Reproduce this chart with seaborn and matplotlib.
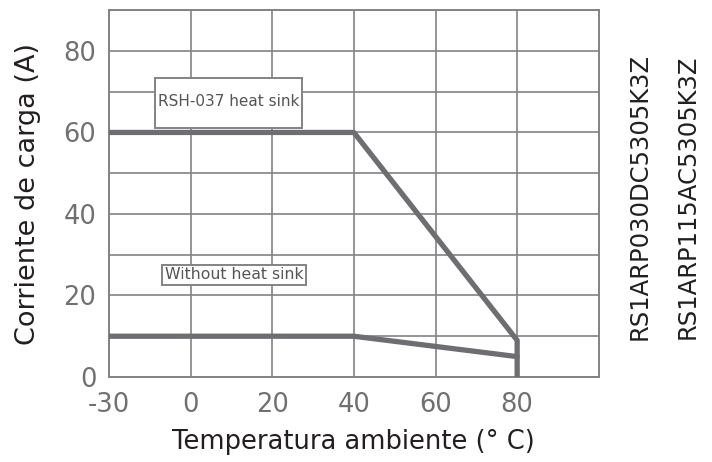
import matplotlib
matplotlib.use("Agg")
import numpy as np
import pandas as pd
import matplotlib.pyplot as plt
import seaborn as sns
from matplotlib.patches import Rectangle

# derating curves
heatsink_temp = [-30, 40, 80, 80]
heatsink_amps = [60, 60, 9, 0]
bare_temp = [-30, 40, 80]
bare_amps = [10, 10, 5]

x_ticks = [-30, 0, 20, 40, 60, 80]
y_ticks = [0, 20, 40, 60, 80]
parts = ["RS1ARP030DC5305K3Z", "RS1ARP115AC5305K3Z"]

df = pd.concat([
    pd.DataFrame({"temp": heatsink_temp, "amps": heatsink_amps, "curve": "RSH-037 heat sink"}),
    pd.DataFrame({"temp": bare_temp, "amps": bare_amps, "curve": "Without heat sink"}),
])

sns.set_style("white")
plt.rcParams["font.family"] = ["DejaVu Sans"]

grid_col = "#838383"
line_col = "#6d6e71"

fig = plt.figure(figsize=(7.12, 4.62), dpi=100)
ax = fig.add_axes([0.153, 0.184, 0.688, 0.794])


# the datasheet squeezes -30..0 into one grid cell
def fwd(x):
    x = np.asarray(x, dtype=float)
    return np.where(x < 0, x * 2 / 3, x)


def inv(p):
    p = np.asarray(p, dtype=float)
    return np.where(p < 0, p * 1.5, p)


ax.set_xscale("function", functions=(fwd, inv))

sns.lineplot(data=df, x="temp", y="amps", hue="curve", units="curve", estimator=None,
             sort=False, palette=[line_col, line_col], legend=False, ax=ax,
             linewidth=3.8, solid_capstyle="round", zorder=3)

ax.set_xlim(-30, 100)
ax.set_ylim(0, 90)
ax.set_xticks(x_ticks)
ax.set_xticklabels([str(t) for t in x_ticks])
ax.set_yticks(y_ticks)
ax.set_yticks(np.arange(10, 91, 20), minor=True)
ax.grid(True, which="both", color=grid_col, linewidth=1.2)
ax.set_axisbelow(True)
for s in ax.spines.values():
    s.set_color(grid_col)
    s.set_linewidth(1.4)
ax.tick_params(axis="both", which="both", length=0, labelsize=18.5, labelcolor="#707070")
ax.tick_params(axis="x", pad=11)
ax.tick_params(axis="y", pad=9)

ax.set_xlabel("Temperatura ambiente (° C)", fontsize=18.5, color="#231f20", labelpad=8)
ax.set_ylabel("Corriente de carga (A)", fontsize=19.5, color="#231f20", labelpad=16)

# curve captions in white boxes
ax.add_patch(Rectangle((0.094, 0.678), 0.30, 0.136, transform=ax.transAxes,
                       facecolor="white", edgecolor=grid_col, linewidth=1.4, zorder=2))
ax.text(0.101, 0.752, "RSH-037 heat sink", transform=ax.transAxes, fontsize=11,
        color="#555555", va="center", ha="left", zorder=4)
ax.text(0.114, 0.279, "Without heat sink", transform=ax.transAxes, fontsize=11.3,
        color="#555555", va="center", ha="left", zorder=4,
        bbox=dict(boxstyle="square,pad=0.15", facecolor="white", edgecolor=grid_col, linewidth=1.4))

for i, p in enumerate(parts):
    fig.text(0.899 + i * 0.067, 0.574, p, rotation=90, fontsize=17.5, color="#231f20",
             ha="center", va="center")

fig.savefig("out.png", dpi=100)
